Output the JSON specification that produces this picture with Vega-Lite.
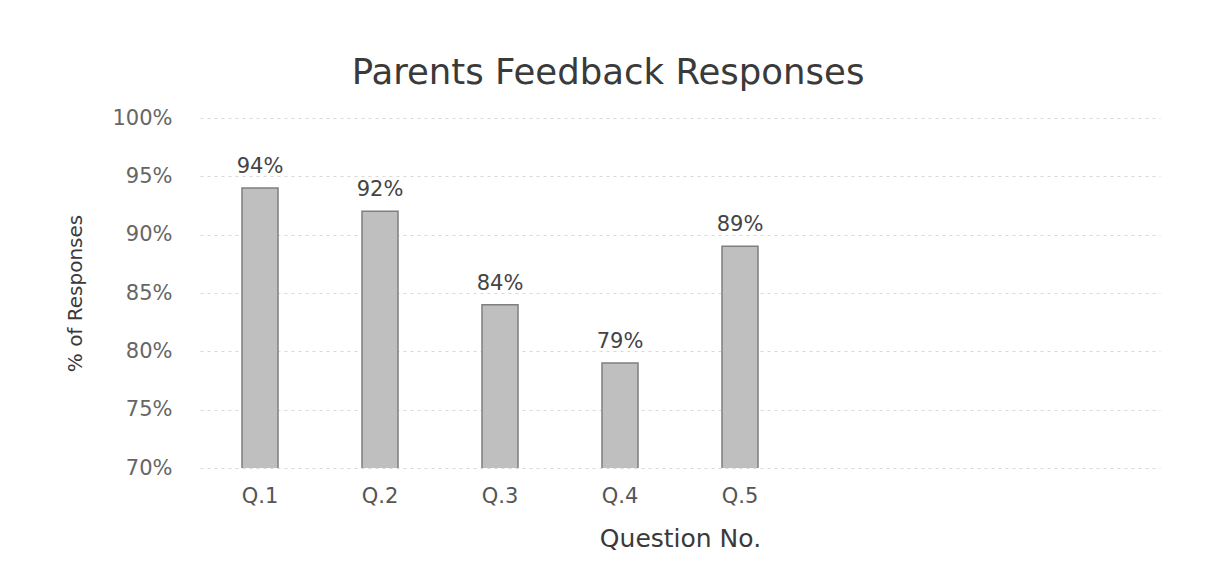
{
  "$schema": "https://vega.github.io/schema/vega-lite/v6.json",
  "width": 960,
  "height": 350,
  "autosize": {"type": "none"},
  "padding": {"left": 200, "top": 118, "right": 54, "bottom": 110},
  "background": "white",
  "config": {
    "view": {"stroke": null},
    "font": "DejaVu Sans"
  },
  "title": {
    "text": "Parents Feedback Responses",
    "fontSize": 35.5,
    "fontWeight": "normal",
    "color": "#3a3a3a",
    "anchor": "middle",
    "dx": -72,
    "offset": 16,
    "font": "DejaVu Sans"
  },
  "data": {
    "values": [
      {"question": "Q.1", "value": 0.94},
      {"question": "Q.2", "value": 0.92},
      {"question": "Q.3", "value": 0.84},
      {"question": "Q.4", "value": 0.79},
      {"question": "Q.5", "value": 0.89}
    ]
  },
  "encoding": {
    "x": {
      "field": "question",
      "type": "nominal",
      "sort": null,
      "scale": {"domain": ["Q.1", "Q.2", "Q.3", "Q.4", "Q.5", " ", "  ", "   "], "paddingInner": 0.7, "paddingOuter": 0.35},
      "axis": {
        "title": "Question No.",
        "titleFontSize": 25,
        "titleFontWeight": "normal",
        "titleColor": "#3a3a3a",
        "titlePadding": 20,
        "labelAngle": 0,
        "labelFontSize": 21,
        "labelColor": "#555",
        "labelPadding": 17,
        "domain": false,
        "ticks": false,
        "grid": false
      }
    },
    "y": {
      "field": "value",
      "type": "quantitative",
      "scale": {"domain": [0.7, 1.0], "zero": false, "nice": false},
      "axis": {
        "title": "% of Responses",
        "titleFontSize": 20,
        "titleFontWeight": "normal",
        "titleColor": "#3a3a3a",
        "titlePadding": 26,
        "format": ".0%",
        "values": [0.7, 0.75, 0.8, 0.85, 0.9, 0.95, 1.0],
        "labelFontSize": 21,
        "labelColor": "#666",
        "labelPadding": 28,
        "domain": false,
        "ticks": false,
        "grid": true,
        "gridColor": "#d8d8d8",
        "gridDash": [3, 4],
        "gridWidth": 1
      }
    }
  },
  "layer": [
    {
      "mark": {"type": "bar", "fill": "#bfbfbf", "stroke": "#7f7f7f", "strokeWidth": 1.5, "clip": true}
    },
    {
      "mark": {"type": "text", "baseline": "bottom", "dy": -11, "fontSize": 21, "color": "#444"},
      "encoding": {
        "text": {"field": "value", "type": "quantitative", "format": ".0%"}
      }
    }
  ]
}
